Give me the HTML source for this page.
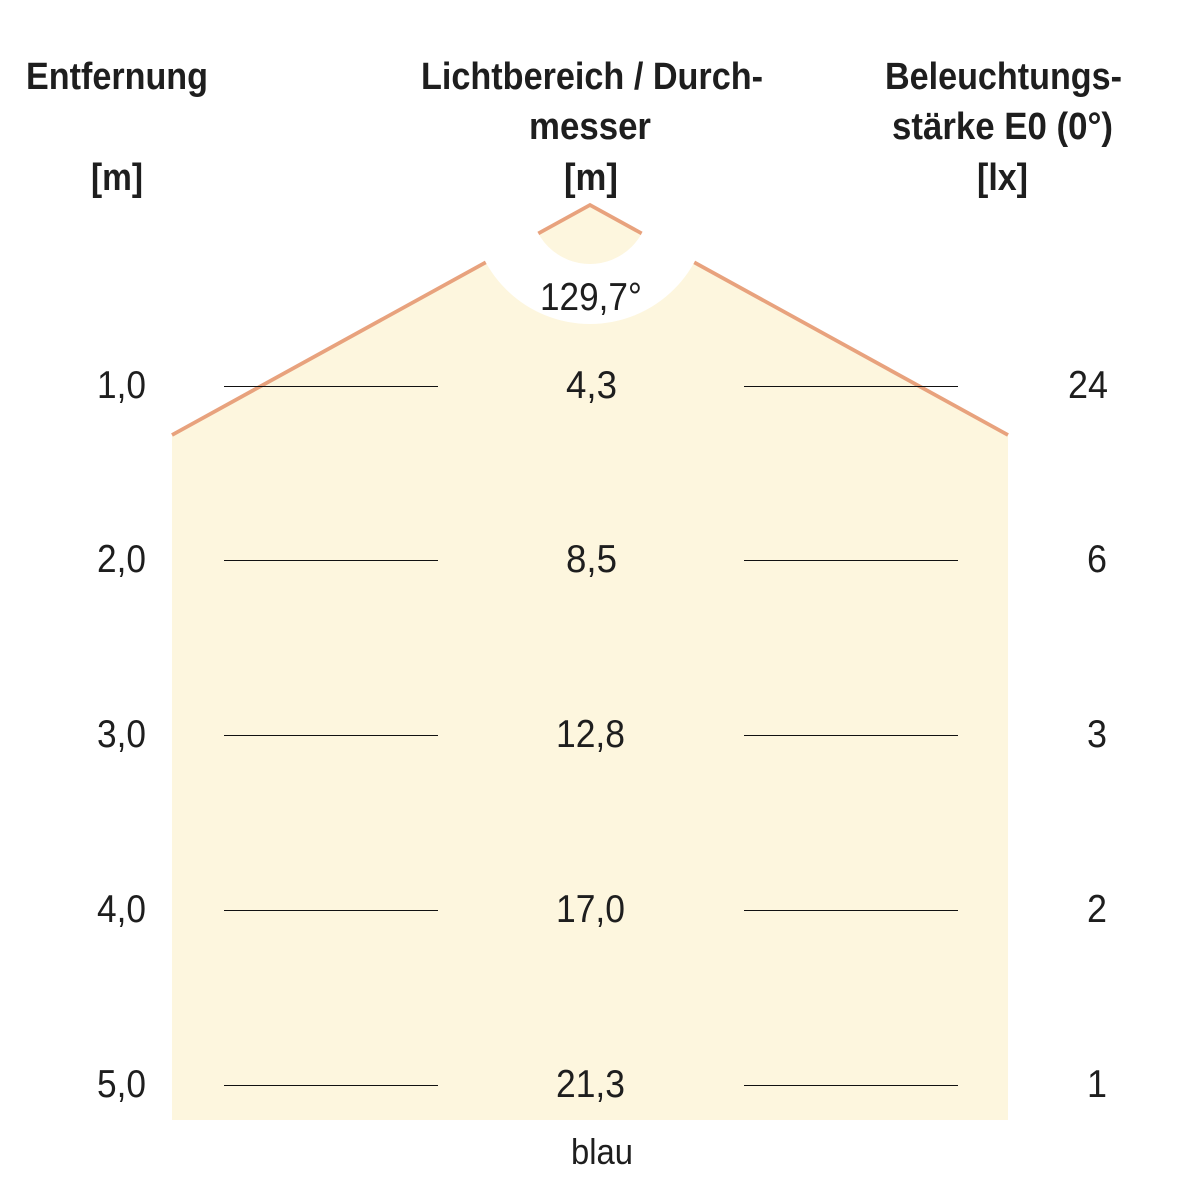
<!DOCTYPE html>
<html>
<head>
<meta charset="utf-8">
<style>
html,body{margin:0;padding:0;background:#fff;}
svg{display:block;}
text{font-family:"Liberation Sans Narrow","Liberation Sans",sans-serif;fill:#1e1e1e;}
.h{font-weight:bold;font-size:38px;}
.n{font-size:39px;}
</style>
</head>
<body>
<svg width="1182" height="1182" viewBox="0 0 1182 1182" xmlns="http://www.w3.org/2000/svg">
  <rect width="1182" height="1182" fill="#fff"/>
  <!-- light area -->
  <polygon points="172,435 590,205 1008,435 1008,1120 172,1120" fill="#fdf6de"/>
  <polyline points="172,435 590,205 1008,435" fill="none" stroke="#e8a27d" stroke-width="3.8"/>
  <!-- white ring -->
  <circle cx="590" cy="205" r="89" fill="none" stroke="#fff" stroke-width="60"/>

  <!-- horizontal lines -->
  <g stroke="#111" stroke-width="1">
    <line x1="224" y1="386.5" x2="438" y2="386.5"/>
    <line x1="744" y1="386.5" x2="958" y2="386.5"/>
    <line x1="224" y1="560.5" x2="438" y2="560.5"/>
    <line x1="744" y1="560.5" x2="958" y2="560.5"/>
    <line x1="224" y1="735.5" x2="438" y2="735.5"/>
    <line x1="744" y1="735.5" x2="958" y2="735.5"/>
    <line x1="224" y1="910.5" x2="438" y2="910.5"/>
    <line x1="744" y1="910.5" x2="958" y2="910.5"/>
    <line x1="224" y1="1085.5" x2="438" y2="1085.5"/>
    <line x1="744" y1="1085.5" x2="958" y2="1085.5"/>
  </g>

  <!-- headers -->
  <text class="h" x="26" y="89" textLength="182" lengthAdjust="spacingAndGlyphs">Entfernung</text>
  <text class="h" x="91" y="190" textLength="52" lengthAdjust="spacingAndGlyphs">[m]</text>

  <text class="h" x="421" y="89" textLength="342" lengthAdjust="spacingAndGlyphs">Lichtbereich / Durch-</text>
  <text class="h" x="529" y="139" textLength="122" lengthAdjust="spacingAndGlyphs">messer</text>
  <text class="h" x="564" y="190" textLength="54" lengthAdjust="spacingAndGlyphs">[m]</text>

  <text class="h" x="885" y="89" textLength="237" lengthAdjust="spacingAndGlyphs">Beleuchtungs-</text>
  <text class="h" x="892" y="139" textLength="221" lengthAdjust="spacingAndGlyphs">stärke E0 (0°)</text>
  <text class="h" x="977" y="190" textLength="51" lengthAdjust="spacingAndGlyphs">[lx]</text>

  <!-- angle -->
  <text class="n" x="540" y="310" textLength="102" lengthAdjust="spacingAndGlyphs">129,7°</text>

  <!-- left values -->
  <text class="n" x="97" y="398" textLength="49" lengthAdjust="spacingAndGlyphs">1,0</text>
  <text class="n" x="97" y="572" textLength="49" lengthAdjust="spacingAndGlyphs">2,0</text>
  <text class="n" x="97" y="747" textLength="49" lengthAdjust="spacingAndGlyphs">3,0</text>
  <text class="n" x="97" y="922" textLength="49" lengthAdjust="spacingAndGlyphs">4,0</text>
  <text class="n" x="97" y="1097" textLength="49" lengthAdjust="spacingAndGlyphs">5,0</text>

  <!-- middle values -->
  <text class="n" x="566" y="398" textLength="51" lengthAdjust="spacingAndGlyphs">4,3</text>
  <text class="n" x="566" y="572" textLength="51" lengthAdjust="spacingAndGlyphs">8,5</text>
  <text class="n" x="556" y="747" textLength="69" lengthAdjust="spacingAndGlyphs">12,8</text>
  <text class="n" x="556" y="922" textLength="69" lengthAdjust="spacingAndGlyphs">17,0</text>
  <text class="n" x="556" y="1097" textLength="69" lengthAdjust="spacingAndGlyphs">21,3</text>

  <!-- right values -->
  <text class="n" x="1068" y="398" textLength="40" lengthAdjust="spacingAndGlyphs">24</text>
  <text class="n" x="1087" y="572" textLength="20" lengthAdjust="spacingAndGlyphs">6</text>
  <text class="n" x="1087" y="747" textLength="20" lengthAdjust="spacingAndGlyphs">3</text>
  <text class="n" x="1087" y="922" textLength="20" lengthAdjust="spacingAndGlyphs">2</text>
  <text class="n" x="1087" y="1097" textLength="20" lengthAdjust="spacingAndGlyphs">1</text>

  <!-- footer -->
  <text class="n" x="571" y="1164" textLength="62" lengthAdjust="spacingAndGlyphs" style="font-size:36px">blau</text>
</svg>
</body>
</html>
